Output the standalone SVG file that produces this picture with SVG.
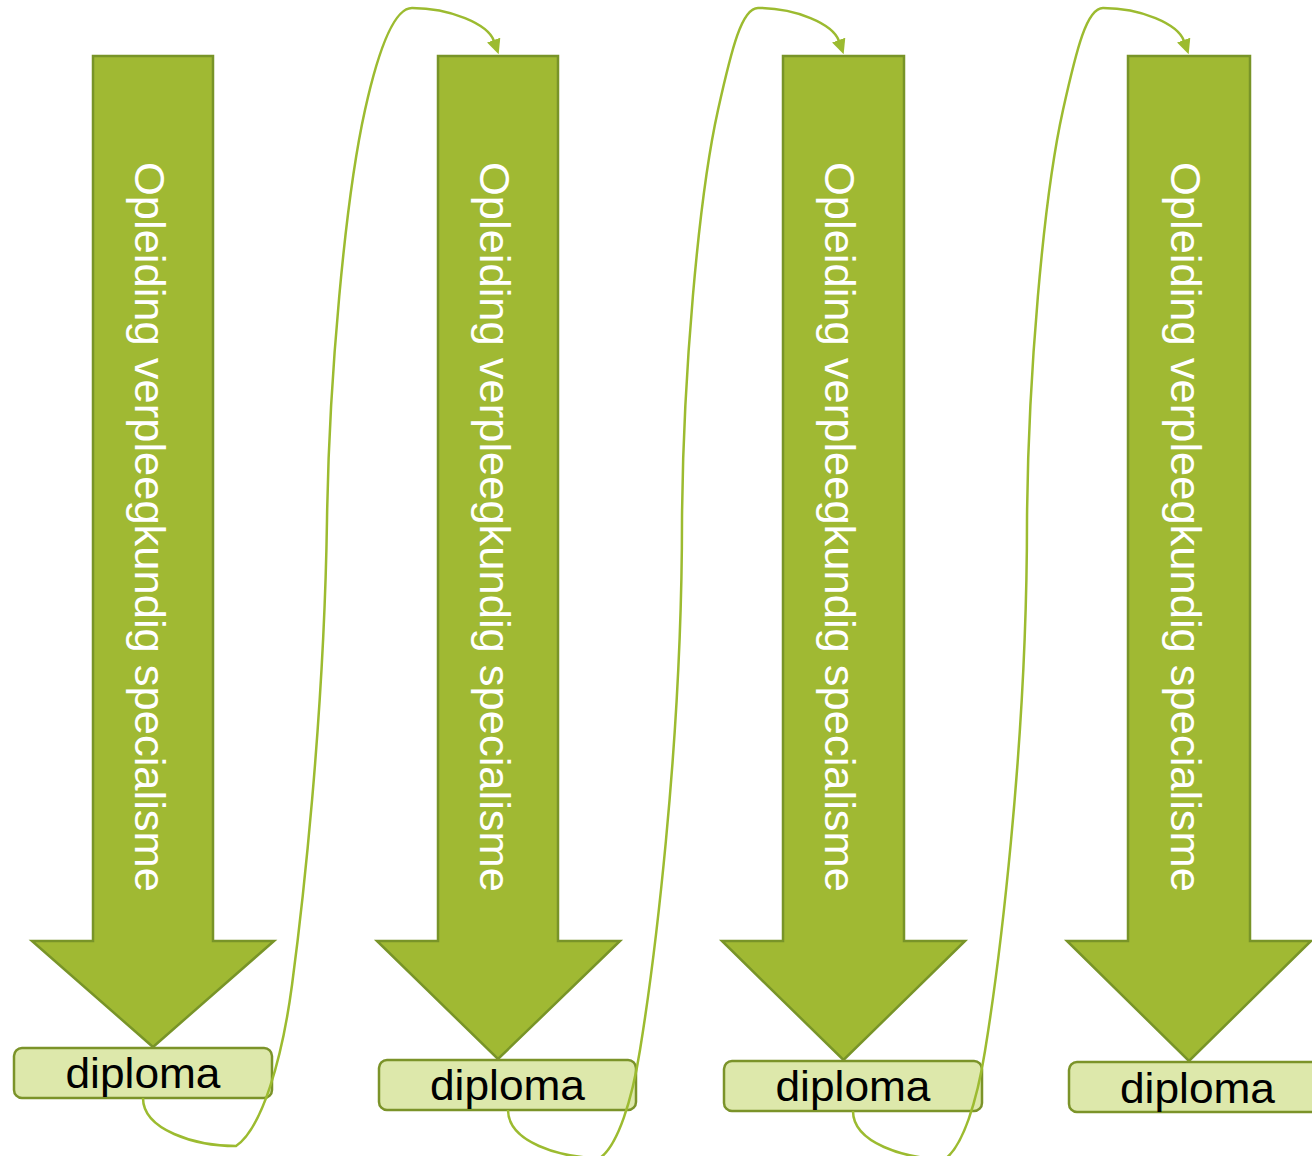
<svg xmlns="http://www.w3.org/2000/svg" width="1312" height="1156" viewBox="0 0 1312 1156">
<defs>
<style>
.arrow{fill:#a0b933;stroke:#789428;stroke-width:2.5;stroke-linejoin:miter}
.box{fill:#dde8ab;stroke:#7b9329;stroke-width:2.5}
.vt{fill:#ffffff;font-family:"Liberation Sans","Open Sans",sans-serif;font-size:43px}
.dt{fill:#000000;font-family:"Liberation Sans","Open Sans",sans-serif;font-size:42px;text-anchor:middle}
.con{fill:none;stroke:#9cbb30;stroke-width:2.5;marker-end:url(#ah)}
</style>
<marker id="ah" markerUnits="userSpaceOnUse" viewBox="0 0 15 14" markerWidth="15" markerHeight="14" refX="1" refY="7" orient="auto">
<path d="M0,0 L15,7 L0,14 Z" fill="#9cbb30"/>
</marker>
</defs>
<rect width="1312" height="1156" fill="#ffffff"/>
<g id="node-1">
<path class="arrow" d="M93,56 H213 V941 H274 L153,1047 L32,941 H93 Z"/>
<text class="vt" transform="translate(135,162) rotate(90)" textLength="730" lengthAdjust="spacingAndGlyphs">Opleiding verpleegkundig specialisme</text>
</g>
<g id="node-2">
<path class="arrow" d="M438,56 H558 V941 H620 L498,1059 L377,941 H438 Z"/>
<text class="vt" transform="translate(480,162) rotate(90)" textLength="730" lengthAdjust="spacingAndGlyphs">Opleiding verpleegkundig specialisme</text>
</g>
<g id="node-3">
<path class="arrow" d="M783,56 H904 V941 H965 L843.5,1060 L722,941 H783 Z"/>
<text class="vt" transform="translate(825,162) rotate(90)" textLength="730" lengthAdjust="spacingAndGlyphs">Opleiding verpleegkundig specialisme</text>
</g>
<g id="node-4">
<path class="arrow" d="M1128,56 H1250 V941 H1311 L1189,1061 L1067,941 H1128 Z"/>
<text class="vt" transform="translate(1171,162) rotate(90)" textLength="730" lengthAdjust="spacingAndGlyphs">Opleiding verpleegkundig specialisme</text>
</g>
<g id="diploma-1">
<rect class="box" x="14" y="1048" width="258" height="50" rx="8"/>
<text class="dt" x="143" y="1088" textLength="155" lengthAdjust="spacingAndGlyphs">diploma</text>
</g>
<g id="diploma-2">
<rect class="box" x="379" y="1060" width="257" height="50" rx="8"/>
<text class="dt" x="507.5" y="1100" textLength="155" lengthAdjust="spacingAndGlyphs">diploma</text>
</g>
<g id="diploma-3">
<rect class="box" x="724" y="1061" width="258" height="50" rx="8"/>
<text class="dt" x="853" y="1101" textLength="155" lengthAdjust="spacingAndGlyphs">diploma</text>
</g>
<g id="diploma-4">
<rect class="box" x="1069" y="1062" width="258" height="50" rx="8"/>
<text class="dt" x="1197.5" y="1103" textLength="155" lengthAdjust="spacingAndGlyphs">diploma</text>
</g>
<g id="connectors">
<path class="con" d="M143,1098 C143,1130 195,1146 236,1146 C262,1128 282,1060 292,985 C302,910 324,720 327,520 C329,380 345,200 365,110 C379,47 395,8 412,8 C450,8 488,24 494,41"/>
<path class="con" d="M508,1110 C508,1142 560,1158 600,1158 C618,1145 632,1100 640,1050 C653,970 682,750 682,520 C683,380 698,200 718,110 C732,47 742,8 758,8 C796,8 833,24 839,41"/>
<path class="con" d="M853,1111 C853,1143 905,1159 945,1159 C963,1146 977,1101 985,1051 C998,971 1027,751 1027,521 C1028,380 1043,200 1063,110 C1077,47 1087,8 1103,8 C1141,8 1178,24 1184,41"/>
</g>
</svg>
